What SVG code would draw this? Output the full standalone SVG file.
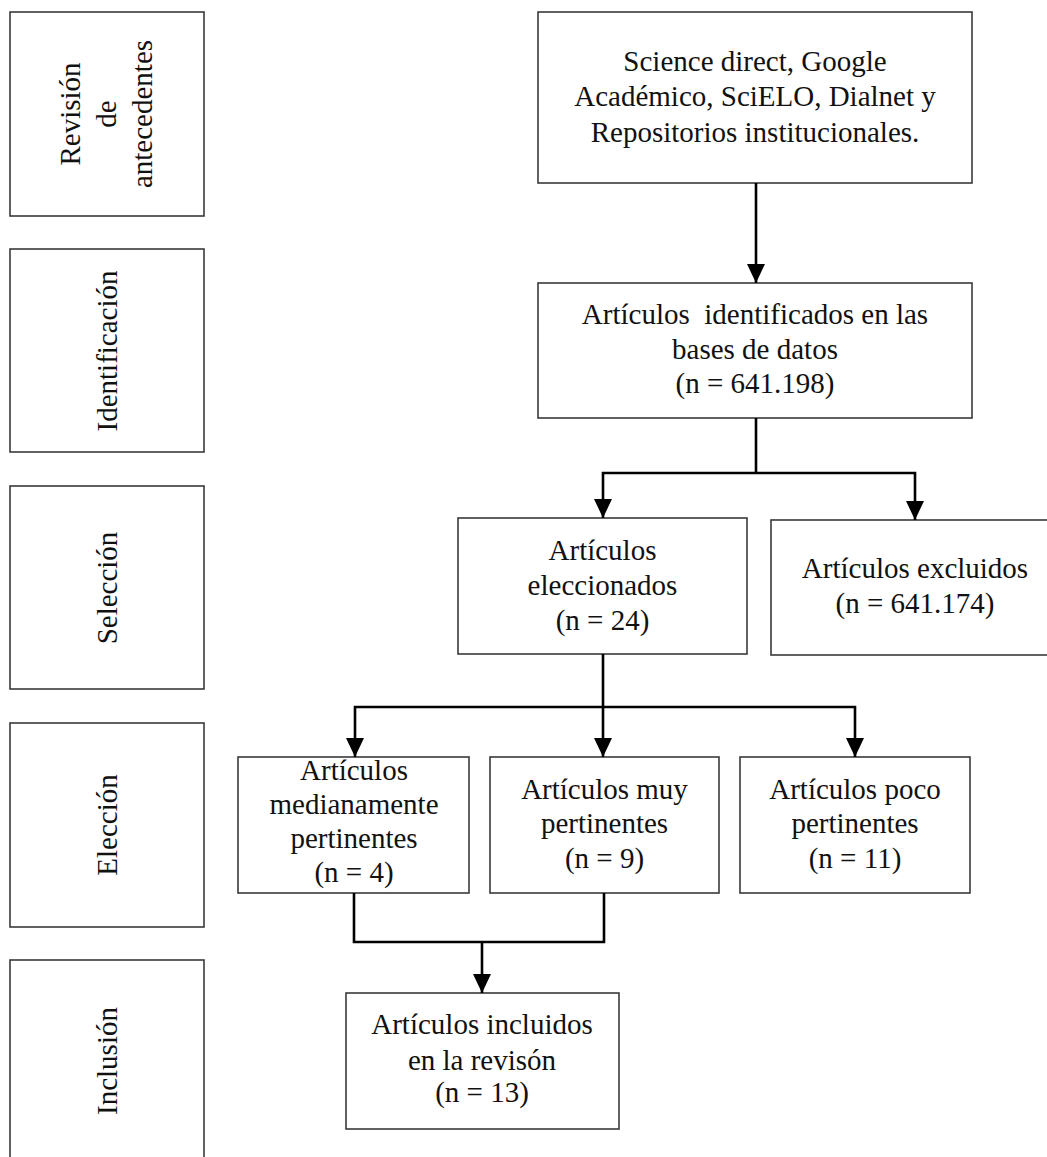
<svg xmlns="http://www.w3.org/2000/svg" width="1047" height="1157" viewBox="0 0 1047 1157">
  <defs>
    <style>
      .box { fill: #ffffff; stroke: #3a3a3a; stroke-width: 1.6; }
      .t { font-family: "Liberation Serif", "Times New Roman", serif; font-size: 29px; fill: #111; text-anchor: middle; }
      .c { fill: none; stroke: #000; stroke-width: 2.6; }
    </style>
    <marker id="ah" markerUnits="userSpaceOnUse" markerWidth="20" markerHeight="18" refX="19" refY="9" orient="auto">
      <path d="M0,0 L19,9 L0,18 Z" fill="#000"/>
    </marker>
  </defs>
  <rect width="1047" height="1157" fill="#ffffff"/>

  <!-- stage labels -->
  <g id="stage-revision">
    <rect class="box" x="10" y="12" width="194" height="204"/>
    <g transform="translate(107,114) rotate(-90)">
      <text class="t" x="0" y="-27">Revisión</text>
      <text class="t" x="0" y="9">de</text>
      <text class="t" x="0" y="45">antecedentes</text>
    </g>
  </g>
  <g id="stage-identificacion">
    <rect class="box" x="10" y="249" width="194" height="203"/>
    <text class="t" transform="translate(117,351) rotate(-90)" x="0" y="0">Identificación</text>
  </g>
  <g id="stage-seleccion">
    <rect class="box" x="10" y="486" width="194" height="203"/>
    <text class="t" transform="translate(117,588) rotate(-90)" x="0" y="0">Selección</text>
  </g>
  <g id="stage-eleccion">
    <rect class="box" x="10" y="723" width="194" height="204"/>
    <text class="t" transform="translate(117,825) rotate(-90)" x="0" y="0">Elección</text>
  </g>
  <g id="stage-inclusion">
    <rect class="box" x="10" y="960" width="194" height="205"/>
    <text class="t" transform="translate(117,1061) rotate(-90)" x="0" y="0">Inclusión</text>
  </g>

  <!-- flow nodes -->
  <g id="n-fuentes">
    <rect class="box" x="538" y="12" width="434" height="171"/>
    <text class="t" x="755" y="71">Science direct, Google</text>
    <text class="t" x="755" y="106">Académico, SciELO, Dialnet y</text>
    <text class="t" x="755" y="142">Repositorios institucionales.</text>
  </g>
  <g id="n-identificados">
    <rect class="box" x="538" y="283" width="434" height="135"/>
    <text class="t" x="755" y="324" xml:space="preserve">Artículos  identificados en las</text>
    <text class="t" x="755" y="359">bases de datos</text>
    <text class="t" x="755" y="393">(n = 641.198)</text>
  </g>
  <g id="n-seleccionados">
    <rect class="box" x="458" y="518" width="289" height="136"/>
    <text class="t" x="602.5" y="560">Artículos</text>
    <text class="t" x="602.5" y="595">eleccionados</text>
    <text class="t" x="602.5" y="630">(n = 24)</text>
  </g>
  <g id="n-excluidos">
    <rect class="box" x="771" y="520" width="290" height="135"/>
    <text class="t" x="915" y="578">Artículos excluidos</text>
    <text class="t" x="915" y="613">(n = 641.174)</text>
  </g>
  <g id="n-medianamente">
    <rect class="box" x="238" y="757" width="231" height="136"/>
    <text class="t" x="354" y="780">Artículos</text>
    <text class="t" x="354" y="814">medianamente</text>
    <text class="t" x="354" y="848">pertinentes</text>
    <text class="t" x="354" y="882">(n = 4)</text>
  </g>
  <g id="n-muy">
    <rect class="box" x="490" y="757" width="229" height="136"/>
    <text class="t" x="604.5" y="799">Artículos muy</text>
    <text class="t" x="604.5" y="833">pertinentes</text>
    <text class="t" x="604.5" y="868">(n = 9)</text>
  </g>
  <g id="n-poco">
    <rect class="box" x="740" y="757" width="230" height="136"/>
    <text class="t" x="855" y="799">Artículos poco</text>
    <text class="t" x="855" y="833">pertinentes</text>
    <text class="t" x="855" y="868">(n = 11)</text>
  </g>
  <g id="n-incluidos">
    <rect class="box" x="346" y="993" width="273" height="136"/>
    <text class="t" x="482" y="1034">Artículos incluidos</text>
    <text class="t" x="482" y="1070">en la revisón</text>
    <text class="t" x="482" y="1102">(n = 13)</text>
  </g>

  <!-- connectors -->
  <g id="connectors">
    <path class="c" d="M756,183 V283" marker-end="url(#ah)"/>
    <path class="c" d="M756,418 V473"/>
    <path class="c" d="M756,473 H603 V518" marker-end="url(#ah)"/>
    <path class="c" d="M756,473 H915 V520" marker-end="url(#ah)"/>
    <path class="c" d="M603,654 V707"/>
    <path class="c" d="M603,707 H355 V757" marker-end="url(#ah)"/>
    <path class="c" d="M603,707 V757" marker-end="url(#ah)"/>
    <path class="c" d="M603,707 H855 V757" marker-end="url(#ah)"/>
    <path class="c" d="M354,893 V942 H604 V893"/>
    <path class="c" d="M482,942 V993" marker-end="url(#ah)"/>
  </g>
</svg>
